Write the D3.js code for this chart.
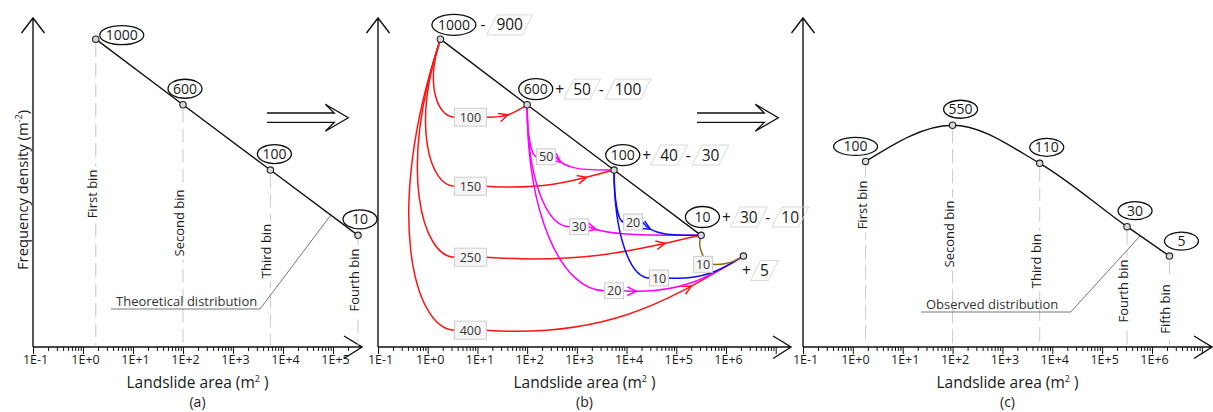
<!DOCTYPE html>
<html><head><meta charset="utf-8">
<script src="https://cdn.jsdelivr.net/npm/d3@7"></script>
<style>body{margin:0;background:#fff} text{font-family:"Open Sans",sans-serif}</style>
</head><body><svg id="c" width="1213" height="412"></svg>
<script>
// ---------------- data ----------------
const binArea = [1.8, 100, 5600, 316000, 2240000];          // representative landslide area of each bin (m²)
const binNames = ["First bin","Second bin","Third bin","Fourth bin","Fifth bin"];
const theoCounts = [1000, 600, 100, 10];                     // theoretical counts (a,b)
const theoLevel  = [96.2, 75.7, 55.3, 34.9];                 // plotted frequency density (relative)
const fifthCount = 5, fifthLevel = 28.4;                     // new fifth bin in (b)
const obsCounts = [100, 550, 110, 30, 5];                    // observed counts (c)
const obsLevel  = [58.0, 69.3, 57.4, 37.6, 28.4];
const flowSource = [0,0,0,0,1,1,1,2,2,3];
const flowTarget = [1,2,3,4,2,3,4,3,4,4];
const flowValue  = [100,150,250,400,50,30,20,20,10,10];
const rowOps = [[["-",900]], [["+",50],["-",100]], [["+",40],["-",30]], [["+",30],["-",10]], [["+",5]]];
const tickLabelsA  = ["1E-1","1E+0","1E+1","1E+2","1E+3","1E+4","1E+5"];
const tickLabelsBC = ["1E-1","1E+0","1E+1","1E+2","1E+3","1E+4","1E+5","1E+6",""];

// ---------------- layout ----------------
const svg = d3.select("#c");
const y = d3.scaleLinear().domain([0,100]).range([347,27]);
const panels = [
  {x: d3.scaleLog().domain([0.1,1e5]).range([33,333]),   tickMax:2.2e5, tip:362,  labels:tickLabelsA,  sub:"(a)"},
  {x: d3.scaleLog().domain([0.1,1e6]).range([378,726]),  tickMax:1e7,   tip:791,  labels:tickLabelsBC, sub:"(b)"},
  {x: d3.scaleLog().domain([0.1,1e6]).range([803,1152]), tickMax:1e7,   tip:1212, labels:tickLabelsBC, sub:"(c)"}
];
const flowColors = ["#ff1414","#ff00ff","#0a0aff","#8b6a14"];
const boxOffset = [[30,78],[30,147],[30,218],[30,291],[19,52],[52,122],[87,186],[19,52],[45,108],[2,29]];
const arrowAt = [0.5,0.78,0.83,0.78,0.12,0.07,0.1,0.17,null,null];
const ovalA = [[26,-4,22],[2,-16,17],[4,-16,17],[2,-16,17]];
const ovalB = [[13.5,-14.3,22],[8.6,-15.7,17],[8.7,-15,17],[1.3,-18.3,17]];
const ovalC = [[-10,-15,22],[8,-16,17],[7,-16,17],[8,-16,17],[12,-15,17]];
const labelYa = [194,223,251,280], labelYc = [205,234,261,291,309];

// ---------------- axes ----------------
panels.forEach(p => {
  const g = svg.append("g");
  const x0 = p.x.range()[0];
  const minor = [], major = [];
  for (let n=-1;n<=7;n++) for (let m=1;m<=9;m++){ const v=m*Math.pow(10,n); if (v<=p.tickMax*1.0001){ (m===1?major:minor).push(v);} }
  const ga = g.append("g").attr("transform","translate(0,347)");
  ga.call(d3.axisBottom(p.x).tickValues(minor).tickSize(4).tickFormat(""));
  const gm = g.append("g").attr("transform","translate(0,347)");
  gm.call(d3.axisBottom(p.x).tickValues(major).tickSize(7).tickPadding(1).tickFormat((d,i)=>p.labels[i]||""));
  [ga,gm].forEach(s=>{ s.select(".domain").remove(); s.selectAll("line").attr("stroke","#111").attr("stroke-width",1); });
  gm.selectAll("text").attr("font-size",12.5).attr("fill","#1a1a1a").attr("dx",2).style("font-family",'"Open Sans",sans-serif');
  g.append("path").attr("d",`M${x0},347H${p.tip}M${p.tip-18},336L${p.tip},347L${p.tip-18},358.5`)
    .attr("fill","none").attr("stroke","#111").attr("stroke-width",1.4);
  g.append("path").attr("d",`M${x0},347V18M${x0-11.5},33L${x0},18L${x0+11.5},33`)
    .attr("fill","none").attr("stroke","#111").attr("stroke-width",1.4);
  const xc = (x0+p.tip)/2;
  const t = g.append("text").attr("x",xc).attr("y",388).attr("text-anchor","middle").attr("font-size",15.5).attr("fill","#1a1a1a");
  t.append("tspan").text("Landslide area (m");
  t.append("tspan").attr("dy",-6).attr("font-size",9).text("2");
  t.append("tspan").attr("dy",6).text(" )");
  g.append("text").attr("x",xc).attr("y",407).attr("text-anchor","middle").attr("font-size",14).attr("fill","#1a1a1a").text(p.sub);
});
// y title
{
  const t = svg.append("text").attr("transform","translate(28,190) rotate(-90)").attr("text-anchor","middle").attr("font-size",14.8).attr("fill","#1a1a1a");
  t.append("tspan").text("Frequency density (m");
  t.append("tspan").attr("dy",-6).attr("font-size",9).text("-2");
  t.append("tspan").attr("dy",6).text(")");
}

// ---------------- helpers ----------------
function dot(g, px, py){
  g.append("circle").attr("cx",px).attr("cy",py).attr("r",3.2).attr("fill","#d8d8d8").attr("stroke","#222").attr("stroke-width",1.1);
}
function oval(g, px, py, off, ry, label){
  const cx=px+off[0], cy=py+off[1];
  g.append("ellipse").attr("cx",cx).attr("cy",cy).attr("rx",off[2]).attr("ry",ry).attr("fill","#fff").attr("stroke","#111").attr("stroke-width",1.3);
  g.append("text").attr("x",cx).attr("y",cy+5).attr("text-anchor","middle").attr("font-size",14).attr("fill","#1a1a1a").text(label);
  return [cx,cy,off[2]];
}
function binLabel(g, lx, cy, name){
  const gg = g.append("g").attr("transform",`translate(${lx+1},${cy}) rotate(-90)`);
  const r = gg.append("rect");
  const t = gg.append("text").attr("text-anchor","middle").attr("font-size",13).attr("fill","#1a1a1a").text(name);
  const b = t.node().getBBox();
  r.attr("x",b.x-3).attr("y",b.y).attr("width",b.width+6).attr("height",b.height+2).attr("fill","#fff");
}
function binLine(g, lx, top){
  g.append("line").attr("x1",lx).attr("x2",lx).attr("y1",top).attr("y2",345)
    .attr("stroke","#c4c4c4").attr("stroke-width",0.9).attr("stroke-dasharray","14,6");
}
function callout(g, tx, ty, text, lineEndX, p){
  g.append("text").attr("x",tx).attr("y",ty).attr("font-size",13).attr("fill","#333").text(text);
  g.append("path").attr("d",`M${tx-5},${ty+3}H${lineEndX}L${p[0]},${p[1]}`).attr("fill","none").attr("stroke","#777").attr("stroke-width",1);
}
function dblArrow(x0, tip, yc){
  svg.append("path").attr("d",`M${x0},${yc-4.7}L${tip-14},${yc-4.7}L${tip-23},${yc-13.5}L${tip},${yc}L${tip-23},${yc+13.5}L${tip-14},${yc+4.7}L${x0},${yc+4.7}`)
    .attr("fill","none").attr("stroke","#111").attr("stroke-width",1.3);
}
dblArrow(267, 348.3, 117.7);
dblArrow(697, 778.3, 117.7);

// ---------------- panel (a) ----------------
{
  const p = panels[0], g = svg.append("g");
  const pts = theoCounts.map((c,i)=>[p.x(binArea[i]), y(theoLevel[i])]);
  pts.forEach((q,i)=>{ binLine(g,q[0],q[1]+4); binLabel(g,q[0],labelYa[i],binNames[i]); });
  const f=0.69, cp=[pts[2][0]+(pts[3][0]-pts[2][0])*f, pts[2][1]+(pts[3][1]-pts[2][1])*f];
  callout(g,116,306,"Theoretical distribution",260,cp);
  g.append("path").attr("d",d3.line()(pts)).attr("fill","none").attr("stroke","#111").attr("stroke-width",1.4);
  pts.forEach((q,i)=>{ dot(g,q[0],q[1]); oval(g,q[0],q[1],ovalA[i],9.5,theoCounts[i]); });
}

// ---------------- panel (b) ----------------
{
  const p = panels[1], g = svg.append("g");
  const pts = theoCounts.map((c,i)=>[p.x(binArea[i]), y(theoLevel[i])]);
  pts.push([p.x(binArea[4]), y(fifthLevel)]);
  const gl = g.append("g"), gb = g.append("g");
  flowValue.forEach((v,i)=>{
    const s = flowSource[i], S = pts[s], T = pts[flowTarget[i]];
    const col = flowColors[s];
    const bx = S[0]+boxOffset[i][0], by = S[1]+boxOffset[i][1];
    const bw = v>=100?32:19, bh = v>=100?18:16;
    let d1;
    if (s===3){
      const L=[bx, by-bh/2];
      d1 = `M${S}C${S[0]-3},${S[1]+9} ${L[0]-3},${L[1]-8} ${L}`;
    } else {
      const L=[bx-bw/2, by], dy=L[1]-S[1], k=(s===0?0.2:0)*dy;
      const p1=[S[0]-k, S[1]+0.6*dy], p2=[L[0]-0.55*(L[0]-(S[0]-k)), L[1]];
      d1 = `M${S}C${p1} ${p2} ${L}`;
    }
    gl.append("path").attr("d",d1).attr("fill","none").attr("stroke",col).attr("stroke-width",1.5);
    const R=[bx+bw/2, by], dx=T[0]-R[0];
    let d2;
    if (T[1] >= R[1]) d2 = `M${R}C${R[0]+0.15*dx},${T[1]} ${T[0]-0.5*dx},${T[1]} ${T}`;
    else d2 = `M${R}C${R[0]+0.5*dx},${R[1]+0.035*dx} ${T[0]-0.25*dx},${T[1]+0.5*(R[1]-T[1])} ${T}`;
    const path = gl.append("path").attr("d",d2).attr("fill","none").attr("stroke",col).attr("stroke-width",1.5);
    if (arrowAt[i]!==null){
      const n = path.node(), len = n.getTotalLength(), l = len*arrowAt[i];
      const a = n.getPointAtLength(l), b0 = n.getPointAtLength(Math.max(0,l-2)), b1 = n.getPointAtLength(Math.min(len,l+2));
      const ang = Math.atan2(b1.y-b0.y, b1.x-b0.x), L=10, w=0.45;
      const q1=[a.x-L*Math.cos(ang-w), a.y-L*Math.sin(ang-w)], q2=[a.x-L*Math.cos(ang+w), a.y-L*Math.sin(ang+w)];
      gl.append("path").attr("d",`M${q1}L${a.x},${a.y}L${q2}`).attr("fill","none").attr("stroke",col).attr("stroke-width",1.5);
    }
    gb.append("rect").attr("x",bx-bw/2).attr("y",by-bh/2).attr("width",bw).attr("height",bh)
      .attr("fill","#f6f6f6").attr("stroke","#c8c8c8").attr("stroke-width",0.9);
    gb.append("text").attr("x",bx).attr("y",by+4.5).attr("text-anchor","middle").attr("font-size",12.5).attr("fill","#333").text(v);
  });
  g.append("path").attr("d",d3.line()(pts.slice(0,4))).attr("fill","none").attr("stroke","#111").attr("stroke-width",1.4);
  const ovals = [];
  pts.forEach((q,i)=>{ dot(g,q[0],q[1]); if(i<4) ovals.push(oval(g,q[0],q[1],ovalB[i],10.5,theoCounts[i])); });
  rowOps.forEach((ops,r)=>{
    let cx, cy;
    if (r<4){ cx = ovals[r][0]+ovals[r][2]+3; cy = ovals[r][1]; }
    else { cx = pts[4][0]-1; cy = pts[4][1]+14.5; }
    ops.forEach(([sign,val])=>{
      g.append("text").attr("x",cx+4).attr("y",cy+5.5).attr("text-anchor","middle").attr("font-size",15.5).attr("fill","#1a1a1a").text(sign);
      const bs = cx+8;
      const poly = g.append("path");
      const t = g.append("text").attr("y",cy+5.5).attr("text-anchor","middle").attr("font-size",15.5).attr("fill","#1a1a1a").text(val);
      const w = t.node().getComputedTextLength()+9, sk=10;
      t.attr("x", bs+sk/2+w/2);
      poly.attr("d",`M${bs},${cy+10}H${bs+w}L${bs+w+sk},${cy-10}H${bs+sk}Z`).attr("fill","none").attr("stroke","#d4d4d4").attr("stroke-width",0.9);
      cx = bs + w + 6.7;
    });
  });
}

// ---------------- panel (c) ----------------
{
  const p = panels[2], g = svg.append("g");
  const pts = obsCounts.map((c,i)=>[p.x(binArea[i]), y(obsLevel[i])]);
  pts.forEach((q,i)=>{ binLine(g,q[0],q[1]+4); binLabel(g,q[0],labelYc[i],binNames[i]); });
  const f=0.31, cp=[pts[3][0]+(pts[4][0]-pts[3][0])*f, pts[3][1]+(pts[4][1]-pts[3][1])*f];
  callout(g,926,309,"Observed distribution",1070.7,cp);
  g.append("path").attr("d",d3.line().curve(d3.curveMonotoneX)(pts)).attr("fill","none").attr("stroke","#111").attr("stroke-width",1.4);
  pts.forEach((q,i)=>{ dot(g,q[0],q[1]); oval(g,q[0],q[1],ovalC[i],9,obsCounts[i]); });
}
</script></body></html>
